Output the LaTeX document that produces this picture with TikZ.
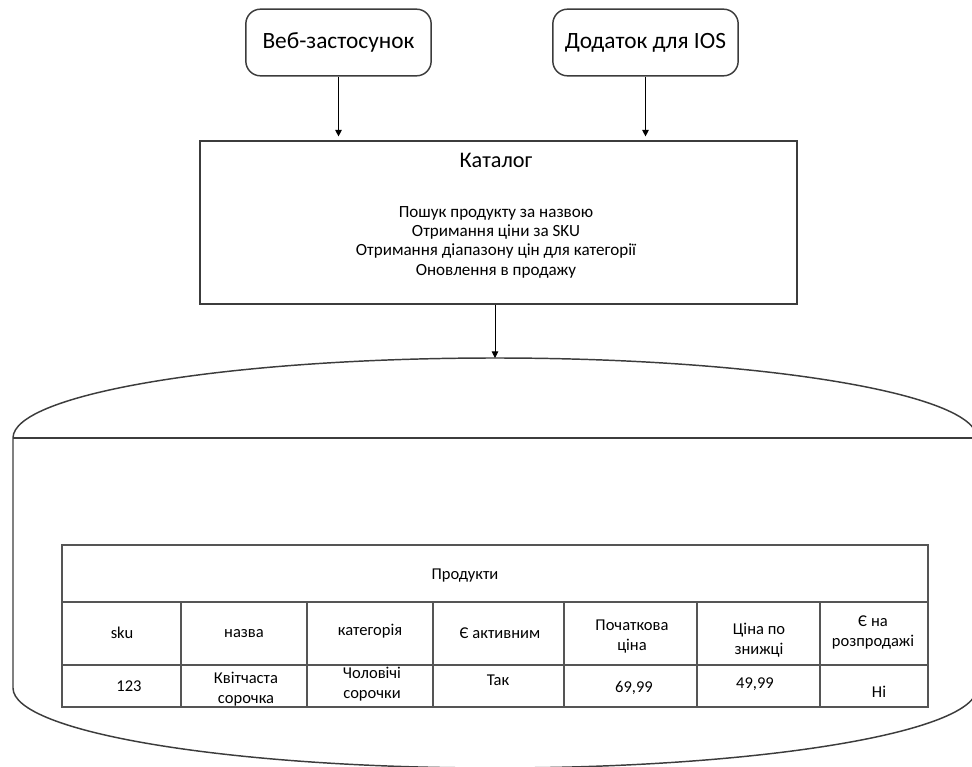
\documentclass[tikz,border=0pt]{standalone}
\usepackage{fontspec}
\setmainfont{Carlito}
\usetikzlibrary{positioning, arrows.meta, calc}
\definecolor{cL}{RGB}{60,60,60}
\definecolor{cT}{RGB}{85,85,85}

\tikzset{
  appbox/.style={draw=cL, line width=1.1pt, rounded corners=11pt,
    minimum width=139pt, minimum height=50pt, inner sep=0pt,
    font=\fontsize{17.5}{20}\selectfont},
  catbox/.style={draw=cL, line width=1.1pt, minimum width=448pt,
    minimum height=122pt, inner sep=0pt},
  flow/.style={-{Triangle[length=5pt,width=5pt]}, line width=0.7pt},
  dbline/.style={draw=cL, line width=1.1pt},
  tabline/.style={draw=cT, line width=1.4pt},
  celltext/.style={align=center, inner sep=0pt,
    font=\fontsize{12.4}{15}\selectfont}
}

\begin{document}
\begin{tikzpicture}[x=0.75pt, y=-0.75pt]
    \useasboundingbox (0,0) rectangle (972,767);

    % Clients
    \node[appbox] (web) at (338.5, 42.5) {Веб-застосунок};
    \node[appbox] (ios) at (645.5, 42.5) {Додаток для IOS};

    % Catalog service
    \node[catbox] (katalog) at (498.5, 222.5) {};
    \node[font=\fontsize{16.7}{19}\selectfont] (katname) at (496, 160) {Каталог};
    \node[align=center, font=\fontsize{12.8}{14.5}\selectfont] (katops) at (496, 242)
        {Пошук продукту за назвою\\Отримання ціни за SKU\\Отримання діапазону цін для категорії\\Оновлення в продажу};

    % Clients to catalog
    \draw[flow, shorten >=3pt] (web.south) -- (web.south |- katalog.north);
    \draw[flow, shorten >=3pt] (ios.south) -- (ios.south |- katalog.north);

    % Database cylinder
    \coordinate (dbtop) at (495, 358);
    \draw[dbline] (13,688) -- (13,438)
        arc[start angle=180, end angle=360, x radius=482, y radius=80]
        -- (977,688)
        arc[start angle=0, end angle=180, x radius=482, y radius=80];
    \draw[dbline] (13,438) -- (977,438);

    % Catalog to database
    \draw[flow] (katalog.south -| dbtop) -- (dbtop);

    % Products table
    \draw[tabline] (62,545) rectangle (928,707);
    \draw[tabline] (62,602) -- (928,602);
    \draw[tabline] (62,665) -- (928,665);
    \foreach \x in {181, 307, 433, 564, 697, 820}
        \draw[tabline] (\x,602) -- (\x,707);
    \node[celltext] (tabname) at (465, 576) {Продукти};

    % Column headings
    \foreach \x/\y/\t [count=\i] in {
        122/633/{sku}, 244/634/{назва}, 370/631/{категорія},
        500/633/{Є активним}, 632/637/{Початкова\\ціна},
        759/640/{Ціна по\\знижці}, 873/632/{Є на\\розпродажі}}
        \node[celltext] (head\i) at (\x,\y) {\t};

    % Data row
    \foreach \x/\y/\t [count=\i] in {
        129/686/{123}, 246/689/{Квітчаста\\сорочка}, 372/684/{Чоловічі\\сорочки},
        498/680/{Так}, 634/688/{69,99}, 755/684/{49,99}, 879/692/{Ні}}
        \node[celltext] (cell\i) at (\x,\y) {\t};
\end{tikzpicture}
\end{document}
